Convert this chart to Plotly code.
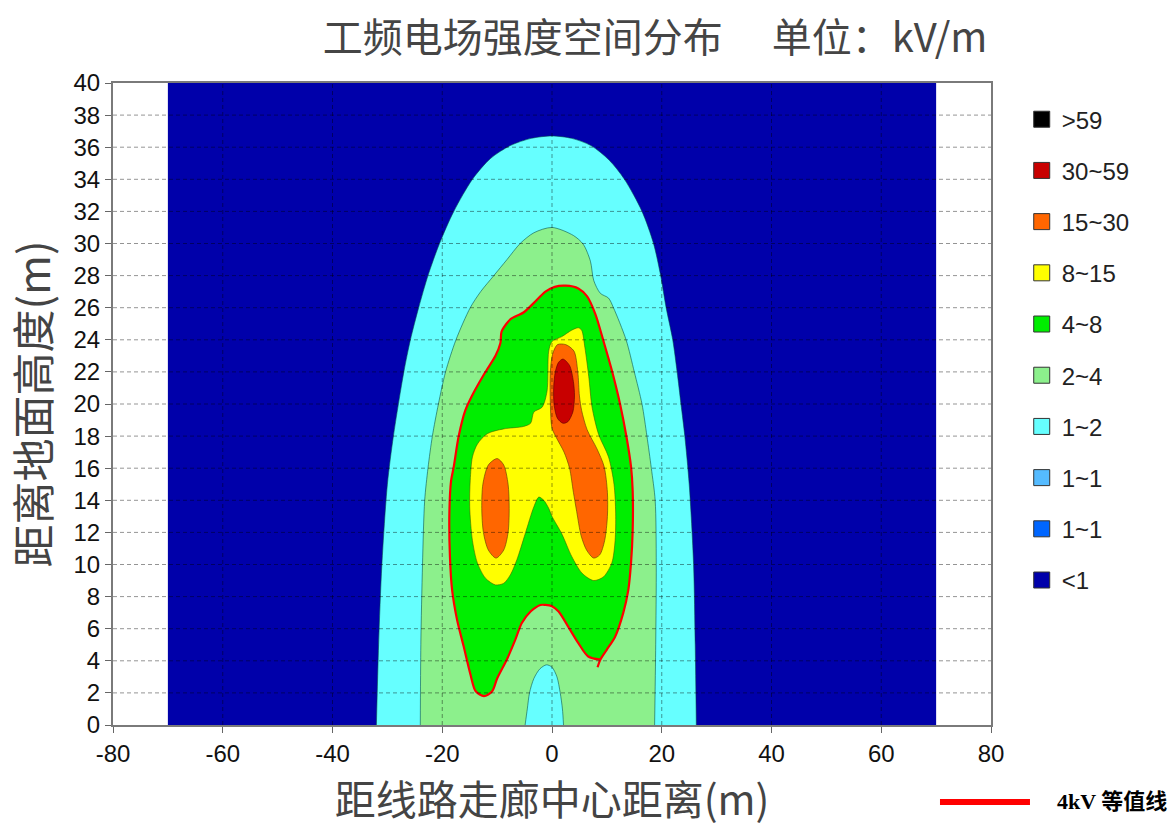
import plotly.graph_objects as go

# ---------------- data ----------------
x_ticks = list(range(-80, 81, 20))
y_ticks = list(range(0, 41, 2))

legend_labels = [">59", "30~59", "15~30", "8~15", "4~8", "2~4", "1~2", "1~1", "1~1", "<1"]
legend_colors = ["#000000", "#C80000", "#FF6600", "#FFFF00", "#00EE00",
                 "#8CF08C", "#66FFFF", "#55BBFF", "#0066FF", "#0000AA"]

# <1 kV/m region (computation domain)
blue_x = [-70, 70, 70, -70]
blue_y = [0, 0, 40, 40]

# 1 kV/m contour
cyan_x = [-32.0, -31.6, -31.0, -30.0, -28.9, -27.0, -25.8, -24.3, -22.6, -20.5, -17.9, -14.5,
          -11.2, -7.6, -3.8, 0.0, 3.6, 7.1, 10.4, 13.2, 16.4, 18.5, 19.8, 20.8, 22.0, 22.8,
          23.5, 24.2, 25.0, 25.8, 26.1, 26.3]
cyan_y = [0, 5, 10, 15, 18, 22, 24, 26, 28, 30, 32, 34, 35.3, 36.1, 36.55, 36.7, 36.55,
          36.1, 35.2, 34, 32, 30, 28, 26, 24, 22, 20, 18, 15, 10, 5, 0]

# 2 kV/m contour
lgreen_x = [-24.0, -23.9, -23.6, -23.2, -22.6, -21.8, -20.7, -19.4, -17.5, -14.9, -13.0,
            -10.6, -8.2, -5.8, -3.3, 0.0, 3.9, 5.7, 7.0, 7.6, 8.8, 10.3, 11.2, 13.5, 15.0,
            16.4, 17.3, 18.1, 18.8, 19.0, 18.9, 18.7]
lgreen_y = [0, 5, 10, 14, 16, 18, 20, 22, 24, 26, 27, 28, 29, 30, 30.67, 31.0, 30.5, 29.95,
            28.9, 27.7, 26.9, 26.6, 26.0, 24, 22, 20, 18, 16, 14, 10, 5, 0]

# inner 1~2 kV/m pocket near the ground
pocket_x = [-4.9, -4.5, -4.1, -3.3, -2.2, -1.0, 0.0, 0.9, 1.5, 1.9, 2.1]
pocket_y = [0, 1, 2, 2.9, 3.5, 3.75, 3.6, 3.0, 2.0, 1.0, 0]

# 4 kV/m contour (the red line)
c4_x = [8.8, 6.6, 4.8, 3.0, 1.2, 0.0, -1.2, -2.1, -3.9, -5.5, -6.7, -8.2, -10.0, -10.9,
        -12.4, -13.9, -14.9, -16.1, -17.3, -18.2, -18.6, -18.7, -18.4, -17.9, -17.0, -15.8,
        -14.6, -12.3, -10.3, -9.4, -9.2, -8.3, -7.5, -5.2, -3.3, -1.2, 0.5, 2.5, 4.8, 6.4,
        7.9, 9.4, 10.9, 12.4, 13.6, 14.4, 14.7, 14.7, 14.4, 13.9, 13.0, 11.5, 10.0, 8.8, 8.3]
c4_y = [4.07, 4.27, 5.1, 6.1, 7.07, 7.4, 7.48, 7.48, 7.07, 6.35, 5.3, 4.1, 2.9, 2.1,
        1.8, 2.1, 3.2, 4.9, 6.55, 8.4, 10.5, 13.2, 15.2, 16.1, 18.0, 19.6,
        20.5, 21.9, 23.0, 23.8, 24.5, 25.0, 25.3, 25.7, 26.3, 27.0, 27.3, 27.37, 27.2, 26.7,
        25.6, 23.9, 22.1, 20.0, 17.9, 16.1, 14.6, 12.1, 10.1, 8.4, 7.0, 5.5, 4.7, 4.07, 3.6]

# 8 kV/m contour
yellow_x = [0.0, 1.8, 3.6, 4.8, 5.4, 6.0, 6.7, 7.3, 8.5, 10.3, 11.3, 11.6, 11.5, 10.9, 9.4,
            7.6, 5.5, 3.6, 1.8, 0.0, -0.6, -1.5, -2.4, -3.3, -4.9, -6.4, -7.6, -8.8, -10.3,
            -12.1, -13.6, -14.5, -15.0, -14.9, -14.5, -13.6, -11.8, -8.8, -5.2, -3.9, -3.3,
            -1.8, -0.9, -0.6]
yellow_y = [23.9, 24.2, 24.6, 24.75, 24.6, 23.5, 21.7, 19.8, 18.1, 16.7, 15.0, 13.2, 11.5,
            10.1, 9.24, 9.0, 9.45, 10.5, 11.9, 13.0, 13.5, 14.0, 14.2, 13.6, 11.9, 10.3, 9.35,
            8.83, 8.73, 9.14, 10.1, 11.5, 13.6, 15.25, 16.7, 17.5, 18.15, 18.45, 18.6, 18.8,
            19.5, 19.8, 20.8, 23.3]

# 15 kV/m contours
orangeL_x = [-10.0, -8.8, -8.0, -7.8, -8.0, -8.8, -10.2, -11.6, -12.5, -12.8, -12.6, -11.6]
orangeL_y = [16.6, 16.2, 15.0, 13.5, 12.0, 10.9, 10.4, 10.9, 12.0, 13.5, 15.0, 16.2]
orangeR_x = [1.0, 2.5, 4.0, 4.7, 5.0, 5.4, 6.4, 8.2, 9.5, 10.1, 10.1, 9.6, 8.7, 7.6, 6.3,
             5.3, 4.5, 3.9, 3.2, 2.2, 0.8, 0.0, -0.3, -0.3, 0.1]
orangeR_y = [23.7, 23.7, 23.3, 22.0, 20.5, 19.6, 18.4, 17.2, 16.1, 14.5, 13.0, 11.5, 10.6,
             10.4, 10.9, 11.8, 13.3, 14.5, 16.0, 17.0, 17.9, 18.5, 20.0, 22.0, 23.1]

# 30 kV/m contour
red_x = [2.0, 3.2, 3.9, 4.1, 3.8, 2.9, 2.0, 1.0, 0.4, 0.3, 0.6, 1.2, 2.0]
red_y = [22.8, 22.4, 21.4, 20.5, 19.5, 18.9, 18.8, 19.1, 19.9, 21.0, 22.0, 22.6, 22.8]

# ---------------- figure ----------------
fig = go.Figure()

regions = [
    (blue_x, blue_y, "#0000AA", "rgba(0,0,0,0)", "linear"),
    (cyan_x, cyan_y, "#66FFFF", "rgba(0,70,70,0.55)", "spline"),
    (lgreen_x, lgreen_y, "#8CF08C", "rgba(0,70,70,0.55)", "spline"),
    (pocket_x, pocket_y, "#66FFFF", "rgba(0,70,70,0.55)", "spline"),
    (c4_x, c4_y, "#00EE00", "rgba(0,0,0,0)", "spline"),
    (yellow_x + yellow_x[:1], yellow_y + yellow_y[:1], "#FFFF00", "rgba(60,90,0,0.55)", "spline"),
    (orangeL_x + orangeL_x[:1], orangeL_y + orangeL_y[:1], "#FF6600", "rgba(90,60,0,0.6)", "spline"),
    (orangeR_x + orangeR_x[:1], orangeR_y + orangeR_y[:1], "#FF6600", "rgba(90,60,0,0.6)", "spline"),
    (red_x, red_y, "#C80000", "rgba(90,0,0,0.6)", "spline"),
]
for rx, ry, fc, lc, shp in regions:
    fig.add_trace(go.Scatter(x=rx, y=ry, mode="lines", fill="toself", fillcolor=fc,
                             line=dict(color=lc, width=1, shape=shp, smoothing=0.8),
                             showlegend=False, hoverinfo="skip"))

# 4 kV iso-line
fig.add_trace(go.Scatter(x=c4_x, y=c4_y, mode="lines",
                         line=dict(color="#FF0000", width=2.2, shape="spline", smoothing=0.8),
                         showlegend=False, hoverinfo="skip"))

# legend entries
for i, (lab, col) in enumerate(zip(legend_labels, legend_colors)):
    fig.add_trace(go.Scatter(x=[None], y=[None], mode="markers", name=lab,
                             legendgroup="g%d" % i,
                             marker=dict(symbol="square", size=18, color=col,
                                         line=dict(color="#333333", width=1))))

# dashed grid above the filled areas
shapes = []
for xv in x_ticks[1:-1]:
    shapes.append(dict(type="line", xref="x", yref="y", x0=xv, x1=xv, y0=y_ticks[0],
                       y1=y_ticks[-1], layer="above",
                       line=dict(color="rgba(0,0,0,0.42)", width=1, dash="4px,3px")))
for yv in y_ticks[1:-1]:
    shapes.append(dict(type="line", xref="x", yref="y", x0=x_ticks[0], x1=x_ticks[-1],
                       y0=yv, y1=yv, layer="above",
                       line=dict(color="rgba(0,0,0,0.42)", width=1, dash="4px,3px")))
# bottom-right iso-line key
shapes.append(dict(type="line", xref="paper", yref="paper", x0=0.9419, x1=1.0444,
                   y0=-0.1199, y1=-0.1199, line=dict(color="#FF0000", width=6)))

fig.update_layout(
    width=1176, height=830,
    margin=dict(l=113, r=185, t=83, b=105),
    paper_bgcolor="white", plot_bgcolor="white",
    shapes=shapes,
    title=dict(text="工频电场强度空间分布　 单位：kV/m", x=0.557, xref="container",
               y=0.954, yref="container", xanchor="center", yanchor="middle",
               font=dict(family="Noto Sans CJK SC", size=40, color="#454545")),
    legend=dict(x=1.035, xanchor="left", y=0.978, yanchor="top",
                font=dict(family="Liberation Sans", size=24, color="#222222"),
                tracegroupgap=17, bgcolor="rgba(0,0,0,0)"),
    annotations=[dict(text="<b>4kV 等值线</b>", xref="paper", yref="paper", x=1.0729,
                      y=-0.1199, xanchor="left", yanchor="middle", showarrow=False,
                      font=dict(family="Liberation Serif, Noto Sans CJK SC", size=22,
                                color="#000000"))],
)
axis_common = dict(ticks="outside", ticklen=6, tickcolor="#666666", showline=True,
                   linecolor="#7a7a7a", linewidth=2, mirror=True, showgrid=False,
                   zeroline=False,
                   tickfont=dict(family="Liberation Sans", size=24, color="#111111"))
fig.update_xaxes(range=[-80, 80], tickvals=x_ticks, ticktext=[str(v) for v in x_ticks],
                 **axis_common,
                 title=dict(text="距线路走廊中心距离(m)", standoff=16,
                            font=dict(family="Noto Sans CJK SC", size=41, color="#444444")))
fig.update_yaxes(range=[0, 40], tickvals=y_ticks, ticktext=[str(v) for v in y_ticks],
                 **axis_common,
                 title=dict(text="距离地面高度(m)", standoff=12,
                            font=dict(family="Noto Sans CJK SC", size=43, color="#444444")))

fig.write_html("out.html")
